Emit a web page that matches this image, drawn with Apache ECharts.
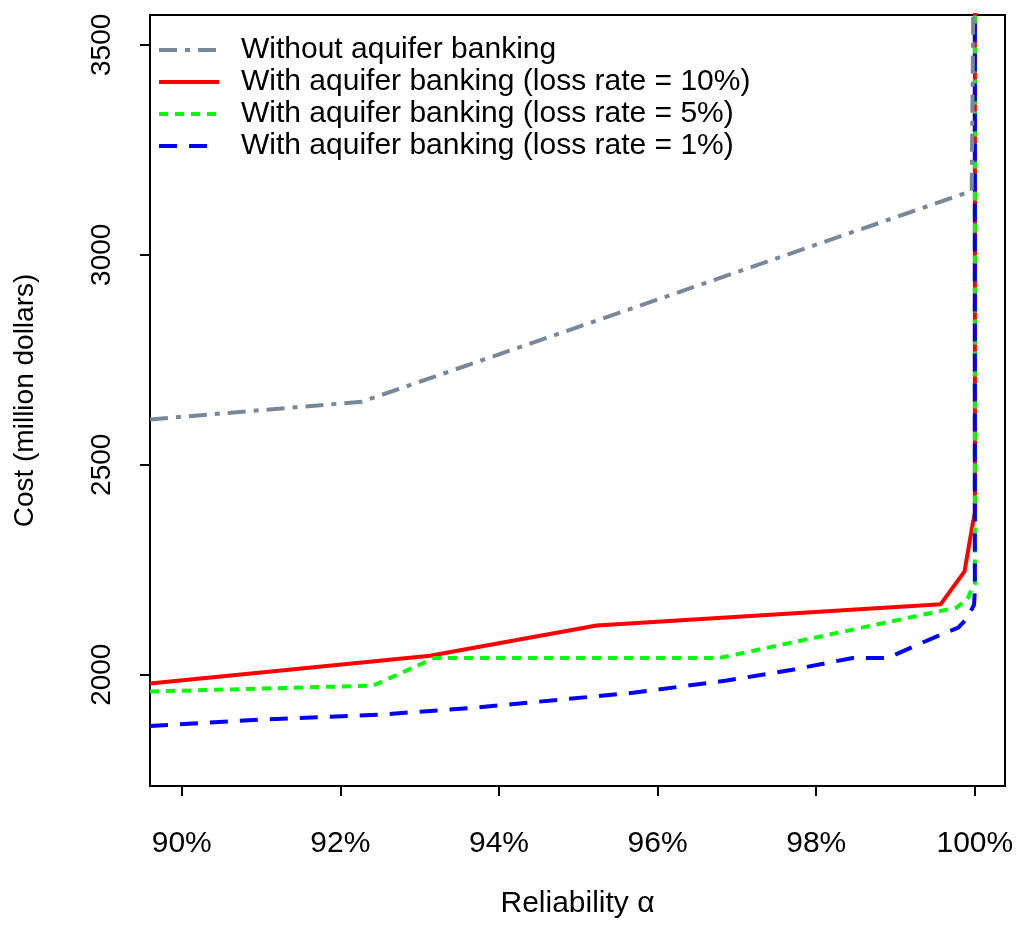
<!DOCTYPE html>
<html>
<head>
<meta charset="utf-8">
<title>Cost vs reliability</title>
<script src="https://cdn.jsdelivr.net/npm/echarts@6/dist/echarts.min.js"></script>
<style>
  html, body { margin: 0; background: #fff; }
  #chart { width: 1024px; height: 929px; }
</style>
</head>
<body>
<div id="chart"></div>
<script>
// names as shown in the legend
const seriesNames = [
  'Without aquifer banking',
  'With aquifer banking (loss rate = 10%)',
  'With aquifer banking (loss rate = 5%)',
  'With aquifer banking (loss rate = 1%)'
]

// [reliability %, cost in million dollars]
const withoutBanking = [[89.6, 2608], [92.27, 2650], [99.96, 3152], [100, 4000]]
const loss10 = [[89.6, 1979], [93.13, 2045], [95.23, 2117], [99.57, 2168], [99.87, 2246], [99.98, 2367], [100, 2385], [100, 4000]]
const loss5 = [[89.6, 1960], [92.41, 1974], [93.19, 2040], [96.78, 2040], [99.77, 2160], [99.91, 2181], [99.96, 2205], [100, 2215], [100, 4000]]
const loss1 = [[89.6, 1878], [90.98, 1893], [92.5, 1905], [93.67, 1921], [95.69, 1957], [96.87, 1986], [97.7, 2012], [98.46, 2040], [98.9, 2040], [99.6, 2098], [99.79, 2112], [99.91, 2136], [99.99, 2167], [100, 2200], [100, 4000]]

const xTicks = [90, 92, 94, 96, 98, 100]
const yTicks = [2000, 2500, 3000, 3500]

const font = 'Liberation Sans, Arial, sans-serif'

const chart = echarts.init(document.getElementById('chart'))

const lineSeries = (name, data, color, type, z) => ({
  name,
  type: 'line',
  data,
  symbol: 'none',
  z,
  lineStyle: { color, width: 4, type, cap: 'butt' },
  itemStyle: { color },
  emphasis: { disabled: true }
})

chart.setOption({
  animation: false,
  backgroundColor: '#fff',
  grid: {
    left: 150,
    right: 19,
    top: 15,
    bottom: 143,
    outerBoundsMode: 'none',
    containLabel: false,
    show: true,
    borderColor: '#000',
    borderWidth: 2
  },
  legend: {
    orient: 'vertical',
    left: 152,
    top: 29,
    itemGap: 0,
    itemWidth: 60,
    itemHeight: 16,
    data: seriesNames,
    itemStyle: { opacity: 0 },
    lineStyle: { width: 4 },
    textStyle: {
      fontFamily: font,
      fontSize: 30,
      color: '#000',
      lineHeight: 32,
      padding: [0, 0, 0, 17]
    }
  },
  xAxis: {
    type: 'value',
    min: 89.6,
    max: 100.38,
    name: 'Reliability α',
    nameLocation: 'middle',
    nameGap: 103,
    nameTextStyle: { fontFamily: font, fontSize: 30, color: '#000' },
    axisLine: { show: true, lineStyle: { color: '#000', width: 2 } },
    axisTick: { show: true, customValues: xTicks, length: 10, lineStyle: { color: '#000', width: 2 } },
    axisLabel: {
      customValues: xTicks,
      formatter: (v) => v + '%',
      fontFamily: font,
      fontSize: 30,
      color: '#000',
      margin: 43
    },
    splitLine: { show: false }
  },
  yAxis: {
    type: 'value',
    min: 1735,
    max: 3571,
    name: 'Cost (million dollars)',
    nameLocation: 'middle',
    nameGap: 111,
    nameRotate: 90,
    nameTextStyle: { fontFamily: font, fontSize: 28, color: '#000' },
    axisLine: { show: true, lineStyle: { color: '#000', width: 2 } },
    axisTick: { show: true, customValues: yTicks, length: 10, lineStyle: { color: '#000', width: 2 } },
    axisLabel: {
      customValues: yTicks,
      formatter: (v) => String(v),
      rotate: 90,
      fontFamily: font,
      fontSize: 28,
      color: '#000',
      margin: 34
    },
    splitLine: { show: false }
  },
  series: [
    lineSeries(seriesNames[0], withoutBanking, '#778899', [18, 8, 5, 8], 5),
    lineSeries(seriesNames[1], loss10, '#ff0000', 'solid', 2),
    lineSeries(seriesNames[2], loss5, '#00ff00', [9, 7], 3),
    lineSeries(seriesNames[3], loss1, '#0000ff', [18, 12], 4)
  ]
})
</script>
</body>
</html>
